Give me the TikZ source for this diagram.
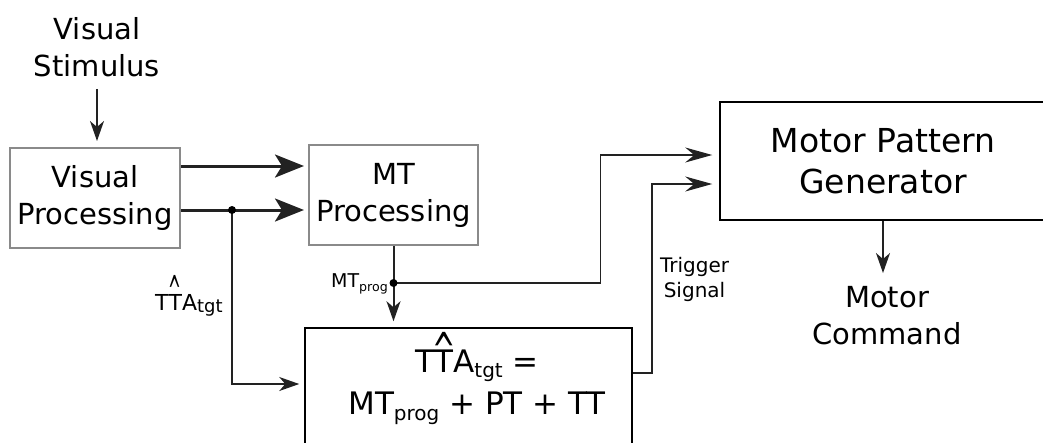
\documentclass[tikz,border=0pt]{standalone}
\usepackage{fontspec}
\setmainfont{DejaVu Sans}
\usepackage{graphicx}
\usetikzlibrary{arrows.meta}
\newcommand\fs[2]{\fontsize{#1}{#2}\selectfont}
\newcommand\hatT[3]{\ooalign{T\cr\hidewidth\raisebox{#3}{\scalebox{#1}[#2]{\textasciicircum}}\hidewidth\cr}}
\newcommand\lowsub[3]{\raisebox{-#1pt}{\fs{#2}{#2}#3}}
\definecolor{boxgray}{HTML}{8A8A8A}
\definecolor{linegray}{HTML}{222222}
\begin{document}
\begin{tikzpicture}[x=1pt,y=-1pt,
  graybox/.style={draw=boxgray,line width=2pt,inner sep=0pt,align=center,font=\fs{29}{37}},
  blackbox/.style={draw=black,line width=1.5pt,inner sep=0pt,align=center},
  txt/.style={inner sep=0pt,align=center},
  thin/.style={draw=linegray,line width=1.5pt},
  thinarr/.style={thin,-{Stealth[length=20pt,width=14pt,inset=6pt]}},
  mparr/.style={thin,-{Stealth[length=27pt,width=15pt,inset=9pt]}},
  thickarr/.style={draw=linegray,line width=3pt,-{Stealth[length=29pt,width=23pt,inset=7pt]}}]
\useasboundingbox (0,0) rectangle (1043,442);
\clip (0,0) rectangle (1043,442);

% nodes
\node[txt,font=\fs{29}{37}] (stim) at (97,47) {Visual\\Stimulus};
\node[graybox,minimum width=170pt,minimum height=100pt] (vp) at (95,198) {Visual\\Processing};
\node[graybox,minimum width=169pt,minimum height=100pt] (mt) at (393.5,195) {MT\\Processing};
\node[blackbox,minimum width=327pt,minimum height=144pt] (fb) at (468.5,400) {};
\node[txt,font=\fs{31}{42}] (formula) at (477,387)
  {T\hatT{0.9}{1.6}{3.5pt}A\lowsub{5}{20}{tgt} =\\MT\lowsub{6}{20}{prog} + PT + TT};
\node[blackbox,minimum width=326pt,minimum height=118pt,font=\fs{33}{41}] (mpg) at (883,161) {Motor Pattern\\Generator};
\node[txt,font=\fs{29}{37}] (cmd) at (887,315.5) {Motor\\Command};

% junctions
\coordinate (j1) at (232,210);
\path (mt.south) ++(0,37) coordinate (j2);

% labels
\node[txt,font=\fs{19}{19},anchor=base east] (mtlab) at (388,287) {MT\lowsub{4}{12.6}{prog}};
\node[txt,font=\fs{20}{25}] (trig) at (694.5,279.5) {Trigger\\Signal};
\node[txt,font=\fs{22}{22},anchor=base west] (ttalab) at (155,310) {T\hatT{0.7}{2.0}{3pt}A\lowsub{2}{18}{tgt}};

% connectors
\draw[thinarr,shorten <=12pt,shorten >=6pt] (stim.south) -- (stim.south |- vp.north);
\draw[thickarr,shorten >=4pt] ([yshift=32pt]vp.east) -- ([yshift=32pt]vp.east -| mt.west);
\draw[thickarr,shorten >=4pt] ([yshift=-12pt]vp.east) -- ([yshift=-12pt]vp.east -| mt.west);
\draw[thinarr,shorten >=5pt] (j1) |- ([yshift=16pt]fb.west);
\draw[thinarr,line width=2pt,shorten >=6pt] (mt.south) -- (mt.south |- fb.north);
\draw[mparr,shorten >=7pt] (j2) -- ++(207,0) |- ([yshift=6pt]mpg.west);
\draw[mparr,shorten >=7pt] ([yshift=27pt]fb.east) -- ++(19,0) |- ([yshift=-23pt]mpg.west);
\draw[thinarr,shorten >=13pt] (mpg.south) -- (mpg.south |- cmd.north);

\fill (j1) circle[radius=4pt];
\fill (j2) circle[radius=4pt];
\end{tikzpicture}
\end{document}
